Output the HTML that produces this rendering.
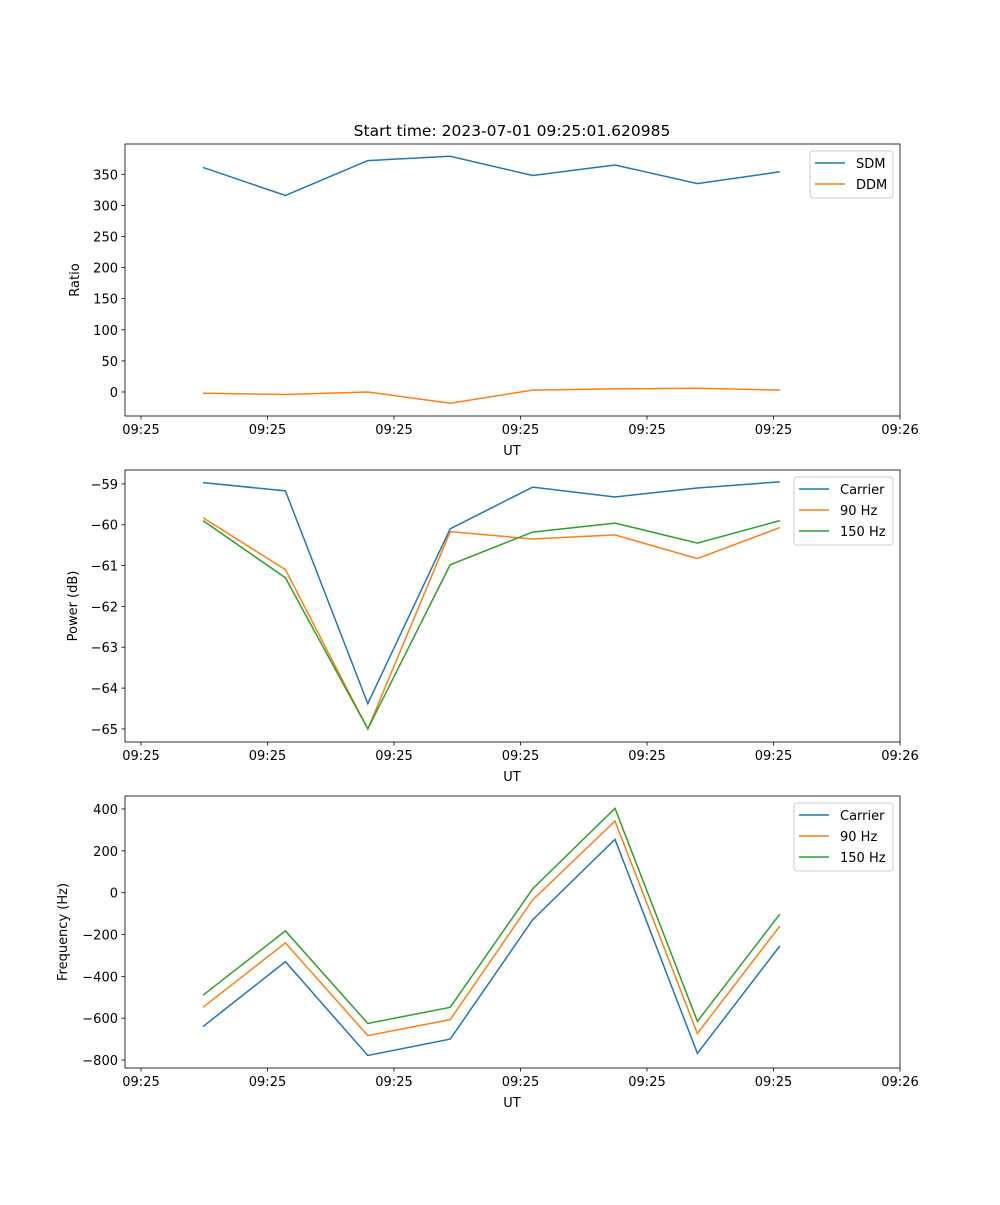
<!DOCTYPE html>
<html><head><meta charset="utf-8"><style>
body{margin:0;background:#fff}
svg text{font-family:"DejaVu Sans","Liberation Sans",sans-serif;font-size:13px;fill:#000}
</style></head><body>
<svg id="chart" width="1000" height="1200" xmlns="http://www.w3.org/2000/svg">
<rect width="1000" height="1200" fill="#fff"/>
<text x="512" y="136" text-anchor="middle" style="font-size:15.5px">Start time: 2023-07-01 09:25:01.620985</text>
</svg>
<script>
const tickLabels=["09:25","09:25","09:25","09:25","09:25","09:25","09:26"];
const sdm=[361,316,372,379,348,365,335,354];
const ddm=[-2,-4,0,-18,3,5,6,3];
const powCarrier=[-58.97,-59.17,-64.38,-60.1,-59.08,-59.32,-59.1,-58.95];
const pow90=[-59.83,-61.1,-65.0,-60.17,-60.35,-60.25,-60.83,-60.07];
const pow150=[-59.9,-61.3,-65.0,-60.98,-60.18,-59.96,-60.45,-59.9];
const freqCarrier=[-640,-330,-778,-700,-130,255,-768,-255];
const freq90=[-548,-240,-683,-607,-35,342,-673,-160];
const freq150=[-490,-183,-625,-548,18,403,-615,-103];
const yTicksTop=[0,50,100,150,200,250,300,350];
const yTicksMid=[-65,-64,-63,-62,-61,-60,-59];
const yTicksBot=[-800,-600,-400,-200,0,200,400];

const NS="http://www.w3.org/2000/svg";
const svg=document.getElementById('chart');
const C=['#1f77b4','#ff7f0e','#2ca02c'];
function mk(t,a,p){const e=document.createElementNS(NS,t);for(const k in a)e.setAttribute(k,a[k]);(p||svg).appendChild(e);return e;}
const L=125,R=900;
function xs(i){return 203+82.4*i;}
function panel(top,ymin,ymax,yticks,fmt,ylabel,series,names,legW,name){
  const bot=top+272;
  const g=mk('g',{});
  
  
  const ys=v=>bot-(v-ymin)/(ymax-ymin)*272;
  series.forEach((s,k)=>{
    const p=mk('polyline',{points:s.map((v,i)=>xs(i)+','+ys(v)).join(' '),fill:'none',stroke:C[k],'stroke-width':1.5},g);
    
    
  });
  mk('rect',{x:L,y:top,width:R-L,height:272,fill:'none',stroke:'#000','stroke-width':0.8},g);
  tickLabels.forEach((t,j)=>{
    const x=141+126.5*j;
    mk('line',{x1:x,x2:x,y1:bot,y2:bot+3.5,stroke:'#000','stroke-width':0.8},g);
    const tx=mk('text',{x:x,y:bot+18,'text-anchor':'middle'},g);tx.textContent=t;
    
    
  });
  yticks.forEach(v=>{
    const y=ys(v);
    mk('line',{x1:L-3.5,x2:L,y1:y,y2:y,stroke:'#000','stroke-width':0.8},g);
    const tx=mk('text',{x:L-7,y:y+5,'text-anchor':'end'},g);tx.textContent=fmt(v);
    
    
  });
  const xl=mk('text',{x:512,y:bot+39,'text-anchor':'middle'},g);xl.textContent='UT';
  
  
  const cy=(top+bot)/2;
  const yl=mk('text',{x:0,y:0,'text-anchor':'middle',transform:`translate(${ylabel[1]},${cy}) rotate(-90)`},g);yl.textContent=ylabel[0];
  
  
  const lx=R-7-legW, ly=top+7;
  const lg=mk('g',{},g);
  
  
  mk('rect',{x:lx,y:ly,width:legW,height:names.length*21+5,rx:3,fill:'#fff',stroke:'#ccc','stroke-width':1},lg);
  names.forEach((n,k)=>{
    const y=ly+12+21*k;
    mk('line',{x1:lx+5,x2:lx+35,y1:y,y2:y,stroke:C[k],'stroke-width':1.5},lg);
    const t=mk('text',{x:lx+46,y:y+5},lg);t.textContent=n;
    
    
  });
}
const minus=v=>String(v).replace('-','\u2212');
panel(144,-38.6,398.7,yTicksTop,minus,['Ratio',79],[sdm,ddm],['SDM','DDM'],83,'ratio-panel');
panel(470,-65.32,-58.66,yTicksMid,minus,['Power (dB)',77],[powCarrier,pow90,pow150],['Carrier','90 Hz','150 Hz'],99,'power-panel');
panel(796,-838,462,yTicksBot,minus,['Frequency (Hz)',67],[freqCarrier,freq90,freq150],['Carrier','90 Hz','150 Hz'],99,'frequency-panel');
</script>
</body></html>
